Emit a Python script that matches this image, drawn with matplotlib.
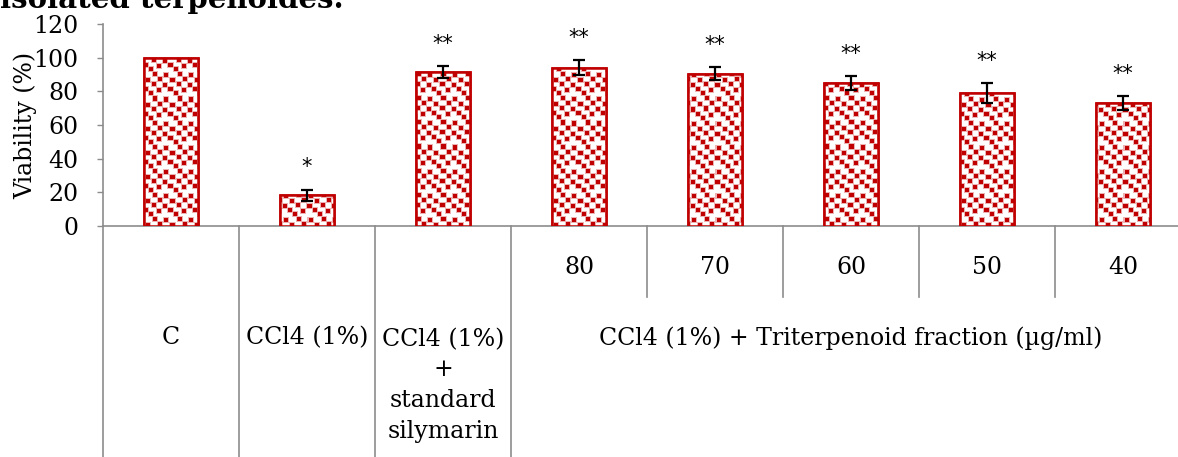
import numpy as np
import matplotlib
matplotlib.use("Agg")
import matplotlib.pyplot as plt
import matplotlib.transforms as mtransforms

# ---- data -------------------------------------------------------------
groups = ["C", "CCl4 (1%)", "CCl4 (1%)\n+\nstandard\nsilymarin"]
doses = ["80", "70", "60", "50", "40"]
dose_group_label = "CCl4 (1%) + Triterpenoid fraction (µg/ml)"
viability = [100, 18.2, 91.5, 94, 90.5, 85, 79, 73]
sem = [0, 3.4, 3.5, 4.5, 4, 4.2, 6, 4.3]
significance = ["", "*", "**", "**", "**", "**", "**", "**"]
y_ticks = [0, 20, 40, 60, 80, 100, 120]

RED = "#C00000"
GRID = "#8C8C8C"
SERIF = "DejaVu Serif"
FS = 17

W, H, DPI = 1178, 457, 100
fig = plt.figure(figsize=(W / DPI, H / DPI), dpi=DPI)

# axes geometry in pixels (the category axis runs a little past the right edge)
ax_left, ax_w = 103, 1088
ax_top, ax_h = 24, 202
ax = fig.add_axes([ax_left / W, (H - ax_top - ax_h) / H, ax_w / W, ax_h / H])

n = len(viability)
x = np.arange(n)

# confetti texture in screen pixels: solid squares with a soft rim
T = 24
tile = np.zeros((T, T))
for r, c in [(1, 2), (2, 13), (6, 7), (7, 19), (11, 1), (12, 12),
             (16, 17), (17, 6), (20, 22)]:
    for dr in range(-1, 5):
        for dc in range(-1, 5):
            rim = dr in (-1, 4) or dc in (-1, 4)
            val = 0.3 if rim else 1.0
            rr, cc = (r + dr) % T, (c + dc) % T
            tile[rr, cc] = max(tile[rr, cc], val)
reps = (ax_h // T + 2, ax_w // T + 2)
alpha = np.tile(tile, reps)[:ax_h, :ax_w][..., None]
red = np.array(matplotlib.colors.to_rgb(RED))
tex = (1 - alpha) * np.ones(3) + alpha * red

bars = ax.bar(x, viability, width=0.4, facecolor="white", edgecolor=RED,
              linewidth=1.8, zorder=3)
for b in bars:
    im = ax.imshow(tex, extent=(-0.5, n - 0.5, 0, 120), aspect="auto",
                   interpolation="nearest", origin="upper", zorder=3.5)
    im.set_clip_path(b)
    ax.add_patch(plt.Rectangle(b.get_xy(), b.get_width(), b.get_height(),
                               facecolor="none", edgecolor=RED, linewidth=1.8,
                               zorder=4))

for xi, v, e, s in zip(x, viability, sem, significance):
    if e > 0:
        ax.errorbar(xi, v, yerr=e, fmt="none", ecolor="black", elinewidth=1.6,
                    capsize=4.5, capthick=1.6, zorder=5)
    if s:
        ax.annotate(s, (xi, v + e), xytext=(0, 16), textcoords="offset points",
                    ha="center", va="center", fontsize=15,
                    family="DejaVu Sans", zorder=6)

ax.set_xlim(-0.5, n - 0.5)
ax.set_ylim(0, 120)
ax.set_yticks(y_ticks)
ax.set_yticklabels([str(t) for t in y_ticks], family=SERIF, fontsize=FS)
ax.tick_params(axis="y", direction="out", length=4.5, width=1.0, color=GRID,
               pad=13)
ax.set_xticks([])
for side in ["top", "right"]:
    ax.spines[side].set_visible(False)
for side in ["left", "bottom"]:
    ax.spines[side].set_color(GRID)
    ax.spines[side].set_linewidth(1.2)

# category table under the axis
trans = mtransforms.blended_transform_factory(ax.transData, ax.transAxes)
for bx in [-0.5, 0.5, 1.5, 2.5]:
    ax.plot([bx, bx], [0, -1.3], transform=trans, color=GRID, lw=1.2,
            clip_on=False)
for bx in [3.5, 4.5, 5.5, 6.5]:
    ax.plot([bx, bx], [0, -0.351], transform=trans, color=GRID, lw=1.2,
            clip_on=False)

row1 = (226 - 267) / ax_h
row2 = (226 - 338) / ax_h
for i, lab in enumerate(groups):
    if "\n" in lab:
        ax.text(i, row2 + 0.05, lab, transform=trans, ha="center", va="top",
                family=SERIF, fontsize=FS, linespacing=1.42)
    else:
        ax.text(i, row2, lab, transform=trans, ha="center", va="center",
                family=SERIF, fontsize=FS)
for j, lab in enumerate(doses):
    ax.text(len(groups) + j, row1, lab, transform=trans, ha="center",
            va="center", family=SERIF, fontsize=FS)
ax.text(len(groups) + (len(doses) - 1) / 2, row2, dose_group_label,
        transform=trans, ha="center", va="center", family=SERIF, fontsize=FS)

fig.text(25 / W, 1 - 125 / H, "Viability (%)", rotation=90, ha="center",
         va="center", family=SERIF, fontsize=17)

# heading line running in from above
fig.text(0, 1 - 8 / H, "isolated terpenoides.", ha="left", va="baseline",
         family=SERIF, fontweight="bold", fontsize=21)

fig.savefig("out.png", dpi=DPI)
